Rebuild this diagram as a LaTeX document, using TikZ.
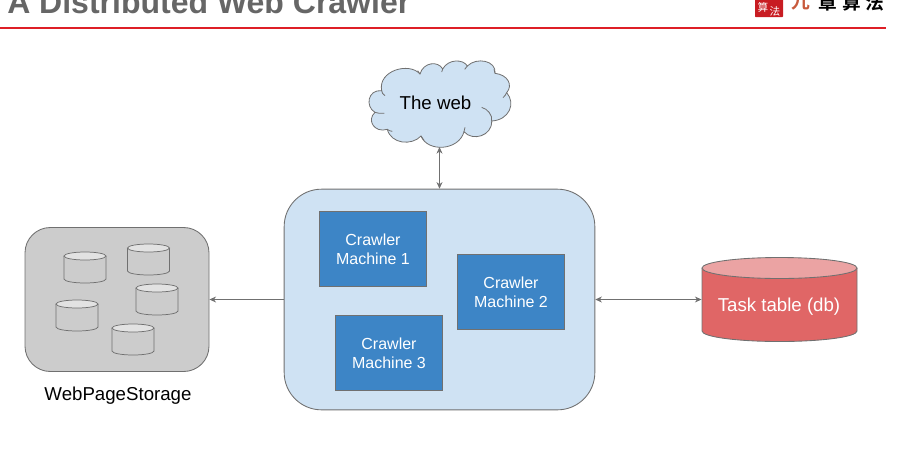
\documentclass[tikz,border=0pt]{standalone}
\usepackage{fontspec}
\setmainfont{Liberation Sans}
\newfontfamily\cjkf{Noto Sans CJK SC}[BoldFont={Noto Sans CJK SC Bold}]
\usetikzlibrary{arrows.meta}
\definecolor{pale}{HTML}{CFE2F3}
\definecolor{mach}{HTML}{3D85C6}
\definecolor{edge}{HTML}{707070}
\definecolor{titlegray}{HTML}{666666}
\definecolor{stor}{HTML}{CCCCCC}
\definecolor{lite}{HTML}{E2E2E2}
\definecolor{dbred}{HTML}{E06666}
\definecolor{dbtop}{HTML}{EBA3A3}
\definecolor{rule}{HTML}{DE1F26}
\tikzset{
  x=0.75pt,y=-0.75pt,
  machine/.style={draw=edge,fill=mach,text=white,line width=.6pt,minimum width=80.6pt,minimum height=56.6pt,inner sep=0pt,align=center,font=\fontsize{12}{14.2}\selectfont},
  conn/.style={draw=edge,line width=.6pt},
  both/.style={conn,{Stealth[length=5pt,width=4.5pt]}-{Stealth[length=5pt,width=4.5pt]}},
  single/.style={conn,-{Stealth[length=5pt,width=4.5pt]}},
  smallcyl/.style={draw=edge,line width=.55pt},
  outline/.style={draw=edge,line width=.65pt},
  label/.style={inner sep=0pt,font=\fontsize{14}{16}\selectfont},
  lobe/.style={draw=edge,line width=.6pt},
  logotext/.style={inner sep=0pt,font=\cjkf\bfseries\fontsize{14}{15}\selectfont},
  sealtext/.style={inner sep=0pt,text=white,font=\cjkf\fontsize{8}{9}\selectfont}
}
\newcommand{\disk}[2]{%
  \begin{scope}[shift={(#1,#2)}]
    \path[smallcyl,fill=stor] (-21,4) -- (-21,27) arc[x radius=21,y radius=4,start angle=180,end angle=0] -- (21,4);
    \path[smallcyl,fill=lite] (0,4) ellipse[x radius=21,y radius=4];
  \end{scope}}
\begin{document}
\begin{tikzpicture}
\useasboundingbox (0,0) rectangle (898,461);
\clip (0,0) rectangle (898,461);
% header
\node[anchor=base west,inner sep=0pt,text=titlegray,font=\fontsize{24}{26}\selectfont\bfseries] (title) at (7,13) {A Distributed Web Crawler};
\draw[rule,line width=1.5pt] (0,28) -- (886,28);
\fill[rule!90!black,rounded corners=.5pt] (755,-6) rectangle (783,17);
\node[sealtext] (sealA) at (763,7) {算};
\node[sealtext] (sealB) at (775,11) {法};
\node[logotext,text={rgb,255:red,200;green,90;blue,60}] (logoA) at (801,2) {九};
\node[logotext] (logoB) at (828,2) {章};
\node[logotext] (logoC) at (852,2) {算};
\node[logotext] (logoD) at (875,2) {法};
% cloud
\begin{scope}[shift={(355,50)},x=.25pt,y=-.25pt]
\path[lobe,fill=pale] (80,122) .. controls (68,62) and (162,35) .. (195,72)
 .. controls (205,36) and (250,32) .. (263,57)
 .. controls (280,26) and (325,27) .. (337,48)
 .. controls (365,20) and (425,32) .. (420,70)
 .. controls (458,74) and (475,105) .. (455,128)
 .. controls (483,160) and (463,210) .. (410,213)
 .. controls (412,258) and (352,275) .. (327,245)
 .. controls (312,302) and (218,308) .. (198,258)
 .. controls (170,288) and (108,282) .. (97,238)
 .. controls (58,250) and (34,210) .. (60,187)
 .. controls (30,170) and (38,118) .. (80,122) -- cycle;
\draw[lobe] (60,187) .. controls (68,190) and (78,191) .. (88,190);
\draw[lobe] (80,122) .. controls (80,128) and (84,133) .. (90,137);
\draw[lobe] (195,72) .. controls (194,68) and (192,66) .. (188,62);
\draw[lobe] (263,57) .. controls (262,60) and (261,63) .. (260,66);
\draw[lobe] (337,48) .. controls (333,52) and (331,55) .. (329,58);
\draw[lobe] (420,70) .. controls (420,66) and (419,62) .. (417,58);
\draw[lobe] (455,128) .. controls (452,134) and (449,139) .. (444,143);
\draw[lobe] (410,213) .. controls (413,195) and (398,177) .. (380,172);
\draw[lobe] (327,245) .. controls (329,240) and (330,237) .. (330,232);
\draw[lobe] (198,258) .. controls (201,264) and (203,267) .. (207,271);
\draw[lobe] (97,238) .. controls (101,242) and (106,243) .. (112,244);
\end{scope}
\node[label] (web) at (435.5,103) {The web};
\coordinate (webfoot) at (439.5,147);
% crawler group
\node[outline,fill=pale,rounded corners=28pt,minimum width=233pt,minimum height=165.5pt,inner sep=0pt] (crawl) at (439.5,299.5) {};
\node[machine] (m1) at (373,249) {Crawler\\Machine 1};
\node[machine] (m2) at (511,292) {Crawler\\Machine 2};
\node[machine] (m3) at (389,353) {Crawler\\Machine 3};
% storage
\node[outline,fill=stor,rounded corners=19pt,minimum width=138pt,minimum height=108pt,inner sep=0pt] (store) at (117,299.5) {};
\disk{85}{252}
\disk{148.5}{244}
\disk{157}{284}
\disk{77}{300}
\disk{133}{324}
\node[label] (storelabel) at (118,396) {WebPageStorage};
% database
\node[minimum width=116.25pt,minimum height=63pt,inner sep=0pt] (db) at (779.3,299.5) {};
\path[outline,fill=dbred] (702,268) -- (702,331) arc[x radius=77.5,y radius=10.5,start angle=180,end angle=0] -- (857,268);
\path[outline,fill=dbtop] (779.5,268) ellipse[x radius=77.5,y radius=10.5];
\node[label,text=white] (dblabel) at (779,307) {Task table (db)};
% connectors
\draw[both] (webfoot) -- (crawl.north);
\draw[single] (crawl.west) -- (store.east);
\draw[both] (crawl.east) -- (db.west);
\end{tikzpicture}
\end{document}
